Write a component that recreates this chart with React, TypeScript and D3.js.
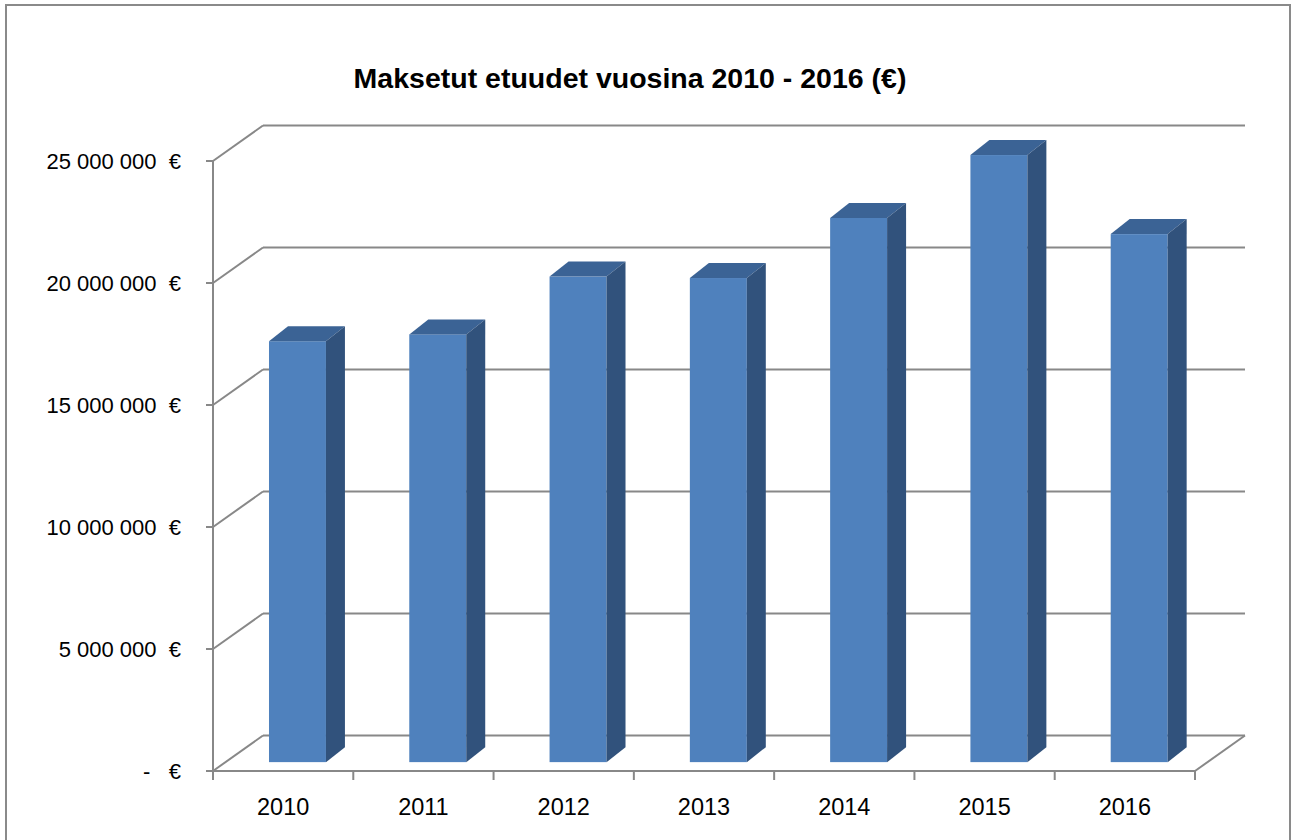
import React from "react";
import * as d3 from "d3";

const years = ["2010", "2011", "2012", "2013", "2014", "2015", "2016"];
const values = [17250000, 17530000, 19900000, 19840000, 22300000, 24880000, 21640000];
const tickValues = [0, 5000000, 10000000, 15000000, 20000000, 25000000];
const tickLabels = ["-   €", "5 000 000  €", "10 000 000  €", "15 000 000  €", "20 000 000  €", "25 000 000  €"];
const title = "Maksetut etuudet vuosina 2010 - 2016 (€)";

const W = 1297;
const H = 840;
const DX = 50; // wall depth offset
const DY = -35.5;
const F1 = 0.25; // bar front depth fraction
const BDX = 19; // bar depth
const BDY = -15;
const GRID = "#888888";
const FRONT = "#4F81BD";
const TOP = "#3B6395";
const SIDE = "#31527C";
const FONT = "'Liberation Sans', Arial, sans-serif";

export default function App() {
  const x = d3.scaleBand<string>().domain(years).range([213, 1195]);
  const y = d3.scaleLinear().domain([0, 25000000]).range([771, 161]);
  const bw = x.bandwidth();
  const x0 = x.range()[0];
  const x1 = x.range()[1];

  return (
    <svg
      width={W}
      height={H}
      style={{ position: "absolute", left: 0, top: 0, display: "block", background: "#fff" }}
    >
      <rect x={6} y={5} width={1284} height={850} fill="#fff" stroke="#8a8a8a" strokeWidth={2} />
      <text
        x={630}
        y={88}
        textAnchor="middle"
        fontFamily={FONT}
        fontWeight="bold"
        fontSize={28.5}
        fill="#000"
      >
        {title}
      </text>

      {/* back wall grid + left wall diagonals */}
      {tickValues.map((v, i) => (
        <g key={v}>
          <line x1={x0 + DX} x2={x1 + DX} y1={y(v) + DY} y2={y(v) + DY} stroke={GRID} strokeWidth={2} />
          <line x1={x0} x2={x0 + DX} y1={y(v)} y2={y(v) + DY} stroke={GRID} strokeWidth={2} />
          <line x1={x0 - 7} x2={x0} y1={y(v)} y2={y(v)} stroke={GRID} strokeWidth={2} />
          <text
            x={181}
            y={y(v)}
            dy="0.36em"
            textAnchor="end"
            fontFamily={FONT}
            fontSize={22}
            fill="#000"
            style={{ whiteSpace: "pre" }}
          >
            {tickLabels[i]}
          </text>
        </g>
      ))}

      {/* left axis */}
      <line x1={x0} x2={x0} y1={y(25000000)} y2={y(0) + 1} stroke={GRID} strokeWidth={2} />

      {/* floor */}
      <line x1={x0} x2={x1} y1={y(0)} y2={y(0)} stroke={GRID} strokeWidth={2} />
      <line x1={x1} x2={x1 + DX} y1={y(0)} y2={y(0) + DY} stroke={GRID} strokeWidth={2} />
      {[...years.map((c) => x(c) as number), x1].map((t, i) => (
        <line key={i} x1={t} x2={t} y1={y(0)} y2={y(0) + 9} stroke={GRID} strokeWidth={2} />
      ))}

      {/* bars */}
      {years.map((c, i) => {
        const fx = (x(c) as number) + bw * 0.31 + DX * F1;
        const w = bw * 0.406;
        const yt = y(values[i]) + DY * F1;
        const yb = y(0) + DY * F1;
        const topPts = [
          [fx, yt],
          [fx + w, yt],
          [fx + w + BDX, yt + BDY],
          [fx + BDX, yt + BDY],
        ];
        const sidePts = [
          [fx + w, yt],
          [fx + w + BDX, yt + BDY],
          [fx + w + BDX, yb + BDY],
          [fx + w, yb],
        ];
        return (
          <g key={c}>
            <rect x={fx} y={yt} width={w} height={yb - yt} fill={FRONT} />
            <polygon points={topPts.map((p) => p.join(",")).join(" ")} fill={TOP} />
            <polygon points={sidePts.map((p) => p.join(",")).join(" ")} fill={SIDE} />
          </g>
        );
      })}

      {/* x labels */}
      {years.map((c) => (
        <text
          key={c}
          x={(x(c) as number) + bw / 2}
          y={815}
          textAnchor="middle"
          fontFamily={FONT}
          fontSize={23.5}
          fill="#000"
        >
          {c}
        </text>
      ))}
    </svg>
  );
}
